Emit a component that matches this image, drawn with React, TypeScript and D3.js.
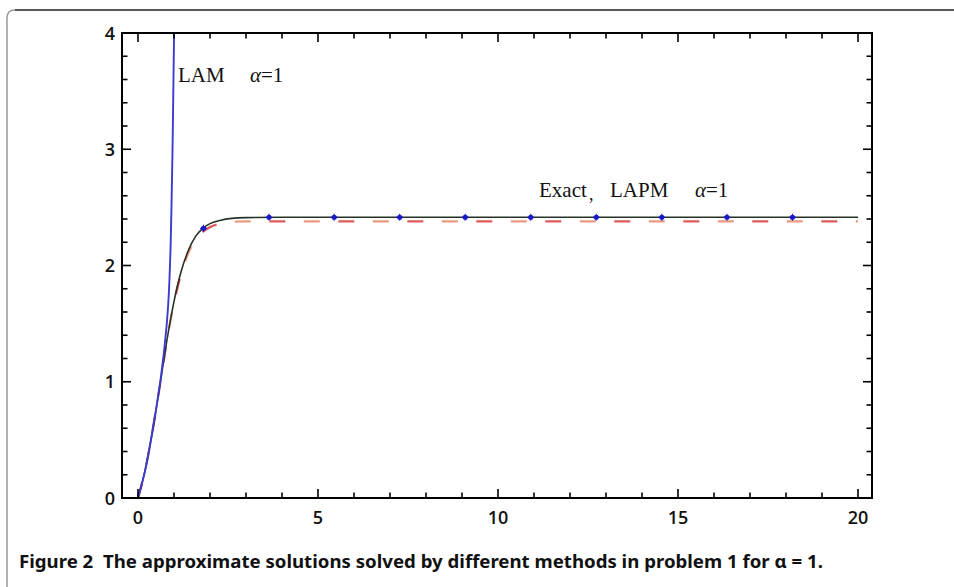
import React from "react";
import * as d3 from "d3";

// Exact solution (black)
const exactX = [0, 0.2, 0.4, 0.6, 0.8, 1.0, 1.2, 1.4, 1.6, 1.8, 2.0, 2.3, 2.6, 3.0, 4.0, 6, 8, 10, 12, 14, 16, 18, 20];
const exactY = [0, 0.24, 0.57, 0.95, 1.35, 1.69, 1.95, 2.13, 2.25, 2.32, 2.36, 2.39, 2.405, 2.412, 2.415, 2.415, 2.415, 2.415, 2.415, 2.415, 2.415, 2.415, 2.415];

// LAPM (dashed red/orange)
const lapmX = [0, 0.2, 0.4, 0.6, 0.8, 1.0, 1.2, 1.4, 1.6, 1.8, 2.0, 2.3, 2.6, 3.0, 4.0, 6, 8, 10, 12, 14, 16, 18, 20];
const lapmY = [0, 0.24, 0.57, 0.95, 1.35, 1.68, 1.93, 2.11, 2.22, 2.29, 2.33, 2.36, 2.375, 2.38, 2.38, 2.38, 2.38, 2.38, 2.38, 2.38, 2.38, 2.38, 2.38];

// LAM (blue), diverging
const lamX = [0, 0.2, 0.4, 0.6, 0.7, 0.75, 0.8, 0.85, 0.9, 0.93, 0.96, 0.99, 1.02];
const lamY = [0, 0.24, 0.57, 0.96, 1.2, 1.34, 1.5, 1.72, 2.1, 2.5, 3.0, 3.7, 4.4];

// Blue markers
const markX = [1.82, 3.64, 5.45, 7.27, 9.09, 10.91, 12.73, 14.55, 16.36, 18.18];
const markY = [2.32, 2.415, 2.415, 2.415, 2.415, 2.415, 2.415, 2.415, 2.415, 2.415];

const xTickLabels = [0, 5, 10, 15, 20];
const yTickLabels = [0, 1, 2, 3, 4];

const caption = "Figure 2  The approximate solutions solved by different methods in problem 1 for \u03b1 = 1.";

const W = 954, H = 587;
const L = 122, R = 872, T = 33, B = 498;

export default function App() {
  const x = d3.scaleLinear().domain([-0.444, 20.389]).range([L, R]);
  const y = d3.scaleLinear().domain([0, 4]).range([B, T]);

  const line = d3.line<[number, number]>().x(d => x(d[0])).y(d => y(d[1])).curve(d3.curveMonotoneX);
  const exactPath = line(exactX.map((v, i) => [v, exactY[i]]) as [number, number][]) || "";
  const lapmPath = line(lapmX.map((v, i) => [v, lapmY[i]]) as [number, number][]) || "";
  const lamPath = d3.line<[number, number]>().x(d => x(d[0])).y(d => y(d[1])).curve(d3.curveCatmullRom)(lamX.map((v, i) => [v, lamY[i]]) as [number, number][]) || "";

  const xMinor = d3.range(0, 21, 1);
  const yMinor = d3.range(0, 4.001, 0.2).map(v => Math.round(v * 10) / 10);

  const tickFont = "'Open Sans', 'Noto Sans', sans-serif";
  const serif = "'Liberation Serif', 'DejaVu Serif', serif";

  return (
    <svg width={W} height={H} style={{ position: "absolute", left: 0, top: 0, background: "#fff" }}>
      {/* figure box */}
      <path d={`M7,${H} L7,18 Q7,10 15,10`} fill="none" stroke="#999" strokeWidth={1.5} />
      <path d={`M15,10 L${W},10`} fill="none" stroke="#222" strokeWidth={1.3} />

      <defs>
        <clipPath id="plotclip">
          <rect x={L} y={T} width={R - L} height={B - T} />
        </clipPath>
      </defs>

      <g clipPath="url(#plotclip)">
        <path d={lapmPath} fill="none" stroke="#e05a5a" strokeWidth={2.4} strokeDasharray="16,53" />
        <path d={lapmPath} fill="none" stroke="#eb9a80" strokeWidth={2.4} strokeDasharray="16,53" strokeDashoffset={-34.5} />
        <path d={exactPath} fill="none" stroke="#263326" strokeWidth={1.6} />
        <path d={lamPath} fill="none" stroke="#3b3bd0" strokeWidth={1.9} />
        {markX.map((mx, i) => (
          <g key={i}>
            <circle cx={x(mx)} cy={y(markY[i])} r={2.6} fill="#1a1acc" />
            <line x1={x(mx) - 3.5} x2={x(mx) + 3.5} y1={y(markY[i])} y2={y(markY[i])} stroke="#1a1acc" strokeWidth={1} />
            <line x1={x(mx)} x2={x(mx)} y1={y(markY[i]) - 3.5} y2={y(markY[i]) + 3.5} stroke="#1a1acc" strokeWidth={1} />
          </g>
        ))}
      </g>

      {/* frame */}
      <rect x={L} y={T} width={R - L} height={B - T} fill="none" stroke="#000" strokeWidth={2} />

      {/* x ticks bottom and top */}
      {xMinor.map(v => {
        const len = v % 5 === 0 ? 9 : 5.5;
        return (
          <g key={"xt" + v}>
            <line x1={x(v)} x2={x(v)} y1={B} y2={B - len} stroke="#000" strokeWidth={1.6} />
            <line x1={x(v)} x2={x(v)} y1={T} y2={T + len} stroke="#000" strokeWidth={1.6} />
          </g>
        );
      })}
      {/* y ticks left and right */}
      {yMinor.map(v => {
        const len = Math.abs(v - Math.round(v)) < 1e-6 ? 9 : 5.5;
        return (
          <g key={"yt" + v}>
            <line x1={L} x2={L + len} y1={y(v)} y2={y(v)} stroke="#000" strokeWidth={1.6} />
            <line x1={R} x2={R - len} y1={y(v)} y2={y(v)} stroke="#000" strokeWidth={1.6} />
          </g>
        );
      })}

      {xTickLabels.map(v => (
        <text key={"xl" + v} x={x(v)} y={524} textAnchor="middle" fontFamily={tickFont} fontWeight={600} fontSize={18} fill="#111">{v}</text>
      ))}
      {yTickLabels.map(v => (
        <text key={"yl" + v} x={115} y={y(v) + 6.5} textAnchor="end" fontFamily={tickFont} fontWeight={600} fontSize={18} fill="#111">{v}</text>
      ))}

      {/* annotations */}
      <text x={178} y={82} fontFamily={serif} fontSize={21} fill="#111">LAM</text>
      <text x={250} y={82} fontFamily={serif} fontSize={21} fill="#111"><tspan fontStyle="italic">α</tspan>=1</text>
      <text x={539} y={197} fontFamily={serif} fontSize={21} fill="#111">Exact</text>
      <text x={589} y={200} fontFamily={serif} fontSize={18} fill="#111">,</text>
      <text x={610} y={197} fontFamily={serif} fontSize={21} fill="#111">LAPM</text>
      <text x={695} y={197} fontFamily={serif} fontSize={21} fill="#111"><tspan fontStyle="italic">α</tspan>=1</text>

      {/* caption */}
      <text x={19} y={568} fontFamily="'Noto Sans', 'Open Sans', sans-serif" fontWeight={700} fontSize={17} fill="#111" textLength={804} lengthAdjust="spacingAndGlyphs" style={{ whiteSpace: "pre" }}>{caption}</text>
    </svg>
  );
}
